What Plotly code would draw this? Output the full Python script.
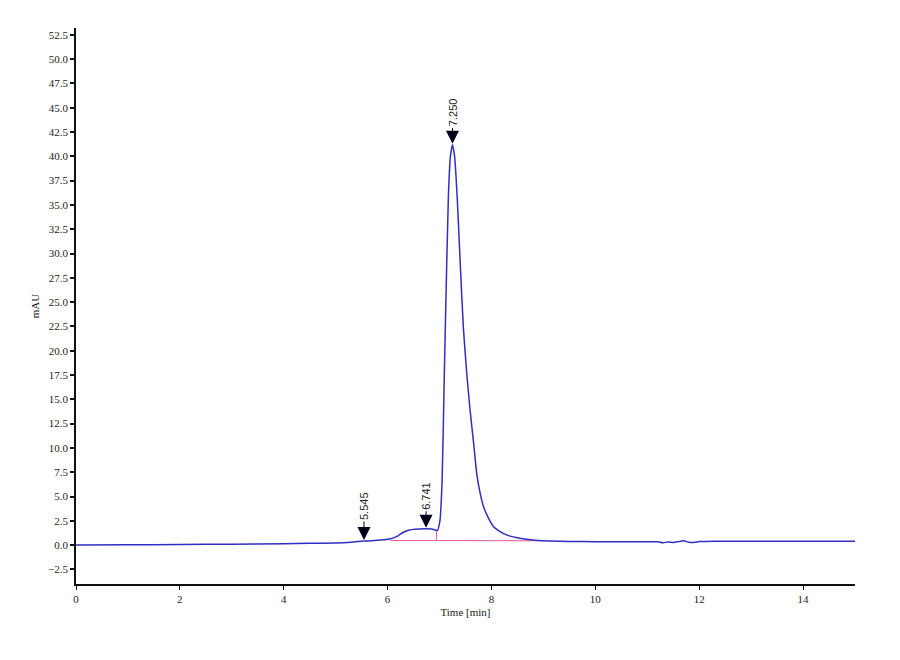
import plotly.graph_objects as go

# Chromatogram trace (time in min, absorbance in mAU)
time_min = [0.0, 1.0, 2.0, 3.0, 4.0, 4.5, 5.0, 5.3, 5.545, 5.8, 6.0, 6.1, 6.2, 6.3, 6.4,
            6.5, 6.6, 6.741, 6.85, 6.92, 6.96, 6.99, 7.01, 7.05, 7.09, 7.11, 7.17, 7.21,
            7.25, 7.29, 7.34, 7.40, 7.46, 7.53, 7.59, 7.66, 7.72, 7.78, 7.85, 7.95, 8.04,
            8.15, 8.3, 8.5, 8.68, 8.9, 9.13, 9.5, 10.0, 10.5, 11.0, 11.2, 11.3, 11.4,
            11.5, 11.6, 11.7, 11.8, 11.9, 12.0, 12.1, 12.5, 13.0, 14.0, 15.0]
signal_mau = [0.0, 0.03, 0.06, 0.1, 0.15, 0.18, 0.22, 0.3, 0.42, 0.5, 0.6, 0.72, 0.95, 1.3, 1.52,
              1.62, 1.66, 1.68, 1.66, 1.55, 1.5, 2.0, 2.6, 6.7, 17.0, 22.0, 35.8, 40.0,
              41.2, 40.0, 35.8, 28.8, 22.3, 17.3, 13.8, 10.3, 7.2, 5.4, 3.9, 2.7, 1.9,
              1.45, 1.03, 0.75, 0.6, 0.48, 0.42, 0.38, 0.35, 0.35, 0.35, 0.34, 0.24, 0.32,
              0.28, 0.36, 0.44, 0.3, 0.27, 0.36, 0.38, 0.4, 0.4, 0.4, 0.4]

# Integration baseline (pink)
baseline_t = [6.05, 9.0]
baseline_y = [0.47, 0.45]
drop_t = [6.94, 6.94]
drop_y = [0.47, 1.47]

# Peak labels
peak_labels = ["5.545", "6.741", "7.250"]
peak_times = [5.545, 6.741, 7.250]
peak_heights = [0.42, 1.68, 41.2]
label_offsets = [-35, -33, -32]

x_ticks = [0, 2, 4, 6, 8, 10, 12, 14]
y_ticks = [-2.5, 0.0, 2.5, 5.0, 7.5, 10.0, 12.5, 15.0, 17.5, 20.0, 22.5, 25.0, 27.5, 30.0,
           32.5, 35.0, 37.5, 40.0, 42.5, 45.0, 47.5, 50.0, 52.5]

fig = go.Figure()
fig.add_trace(go.Scatter(x=baseline_t, y=baseline_y, mode="lines",
                         line=dict(color="#e8559f", width=1), showlegend=False, hoverinfo="skip"))
fig.add_trace(go.Scatter(x=drop_t, y=drop_y, mode="lines",
                         line=dict(color="#e8559f", width=1), showlegend=False, hoverinfo="skip"))
fig.add_trace(go.Scatter(x=time_min, y=signal_mau, mode="lines",
                         line=dict(color="#2f2fc4", width=1.5, shape="spline", smoothing=0.6),
                         showlegend=False))

for lab, t, h, off in zip(peak_labels, peak_times, peak_heights, label_offsets):
    fig.add_annotation(x=t, y=h, xref="x", yref="y", text=lab, textangle=-90,
                       showarrow=True, arrowhead=2, arrowsize=2.6, arrowwidth=1,
                       arrowcolor="#000018", ax=0, ay=off, standoff=1,
                       font=dict(family="Liberation Sans, Arial", size=11, color="#222"))

axis_font = dict(family="Liberation Serif, Times New Roman", size=11, color="#222")
fig.update_layout(
    width=900, height=660,
    margin=dict(l=68, r=53, t=20, b=84),
    plot_bgcolor="white", paper_bgcolor="white",
    xaxis=dict(range=[0, 15], tickvals=x_ticks, ticks="outside", ticklen=4, tickwidth=1,
               tickcolor="#111", showline=True, linecolor="#111", linewidth=1.5,
               showgrid=False, zeroline=False, tickfont=axis_font,
               title=dict(text="Time [min]", font=dict(family="Liberation Serif", size=11, color="#222"),
                          standoff=4)),
    yaxis=dict(range=[-4.0, 53.2], tickvals=y_ticks, tickformat=".1f", ticks="outside",
               ticklen=4, tickwidth=1.5, tickcolor="#111", showline=True, linecolor="#111",
               linewidth=1.5, showgrid=False, zeroline=False, tickfont=axis_font,
               title=dict(text="mAU", font=dict(family="Liberation Serif", size=11, color="#222"),
                          standoff=6)),
)

fig.write_html("out.html")
